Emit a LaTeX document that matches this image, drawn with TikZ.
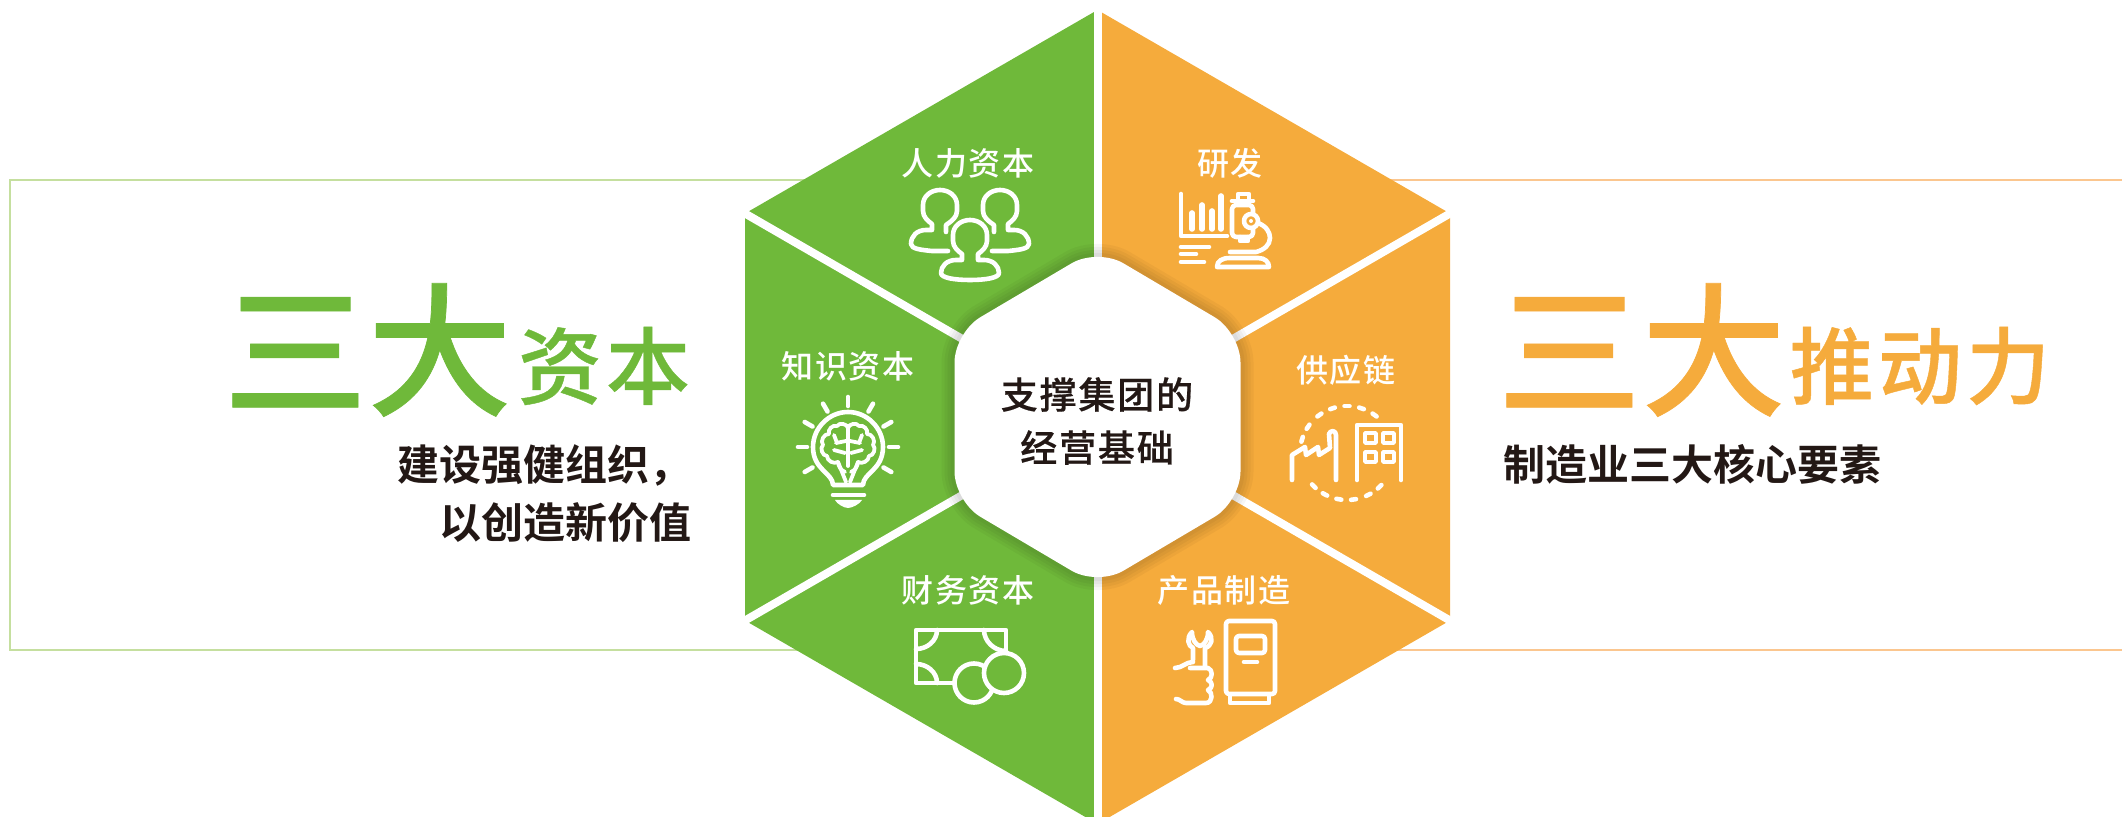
\documentclass[tikz,border=0pt]{standalone}
\usepackage{fontspec}
\usepackage{xcolor}
\usetikzlibrary{calc,positioning}
\newfontfamily\cjkmedium[FakeBold=0.5]{Noto Sans CJK SC Medium}
\newfontfamily\cjkspaced[LetterSpace=5]{Noto Sans CJK SC Medium}
\newfontfamily\cjkheavy[LetterSpace=5,FakeBold=0.5]{Noto Sans CJK SC Medium}
\newfontfamily\cjkbold{Noto Sans CJK SC Bold}
\definecolor{leafgreen}{RGB}{111,185,58}
\definecolor{amber}{RGB}{245,171,60}
\definecolor{leafline}{RGB}{197,223,159}
\definecolor{amberline}{RGB}{251,198,143}
\definecolor{inkdark}{RGB}{35,24,21}
\def\corehex{(1097.5,248) -- (1240.5,332.5) -- (1240.5,501.5) -- (1097.5,586) -- (954.5,501.5) -- (954.5,332.5) -- cycle}
\begin{document}
\begin{tikzpicture}
  [
    x=0.5pt,y=-0.5pt,
    frameline/.style={line width=1.4pt},
    iconline/.style={draw=white,line width=2.3pt,line cap=round,line join=round},
    thinicon/.style={iconline,line width=1.9pt},
    panellabel/.style={text=white,font=\cjkspaced\fontsize{16}{18}\selectfont,inner sep=0pt},
    bigtitle/.style={font=\cjkmedium\fontsize{72}{80}\selectfont,inner sep=0pt},
    smalltitle/.style={font=\cjkheavy\fontsize{42}{46}\selectfont,inner sep=0pt},
    subtitle/.style={text=inkdark,font=\cjkbold\fontsize{21}{29}\selectfont,inner sep=0pt},
    person/.pic={
      \draw[iconline] (-8,34) -- (-8,40) -- (-14,40) .. controls (-23,40) and (-29,46) .. (-29,53) .. controls (-29,58) and (-15,60) .. (0,60) .. controls (15,60) and (29,58) .. (29,53) .. controls (29,46) and (23,40) .. (14,40) -- (8,40) -- (8,34) .. controls (12,31) and (17,27) .. (17,21) -- (17,15) .. controls (17,6) and (9,0) .. (0,0) .. controls (-9,0) and (-17,6) .. (-17,15) -- (-17,21) .. controls (-17,27) and (-12,31) .. (-8,34);
    },
    sideperson/.pic={
      \draw[iconline] (8,61) -- (-8,61) .. controls (-18,60) and (-29,59) .. (-29,54) .. controls (-29,46) and (-23,40) .. (-14,40) -- (-8,40) -- (-8,34) .. controls (-12,31) and (-17,27) .. (-17,21) -- (-17,15) .. controls (-17,6) and (-9,0) .. (0,0) .. controls (9,0) and (17,6) .. (17,15) -- (17,21) .. controls (17,27) and (12,31) .. (6,35) -- (6,42);
    }
  ]
  \clip (0,0) rectangle (2122,817);

  % frames behind the hexagon
  \draw[leafline,frameline] (900,180) -- (10,180) -- (10,650) -- (900,650);
  \draw[amberline,frameline] (1300,180) -- (2130,180);
  \draw[amberline,frameline] (1300,650) -- (2130,650);

  % hexagon
  \fill[leafgreen] (1097.5,10) -- (745,213.5) -- (745,620.5) -- (1097.5,824) -- cycle;
  \fill[amber] (1097.5,10) -- (1450,213.5) -- (1450,620.5) -- (1097.5,824) -- cycle;
  \foreach \ang in {90,30,150,210,330,270}
    \draw[white,line width=4pt] (1097.5,417) -- ++(\ang:440);
  \foreach \wd in {26,20,14,8}
    \draw[black,opacity=0.035,line width=\wd*0.5pt,rounded corners=15pt] \corehex;
  \fill[white,rounded corners=15pt] \corehex;

  % texts
  \node[bigtitle,text=leafgreen] (capitaltitle) at (367.5,350) {三大};
  \node[smalltitle,text=leafgreen] (capitalword) at (604,366) {资本};
  \node[subtitle,align=right,anchor=east] (capitalsub) at (692,494) {建设强健组织，\\以创造新价值};
  \node[bigtitle,text=amber] (drivetitle) at (1641.5,350) {三大};
  \node[smalltitle,text=amber] (driveword) at (1920,366) {推动力};
  \node[subtitle,anchor=west] (drivesub) at (1503,464) {制造业三大核心要素};
  \node[text=inkdark,align=center,inner sep=0pt,font=\cjkheavy\fontsize{18.5}{26.5}\selectfont] (corelabel) at (1097,421) {支撑集团的\\经营基础};

  \node[panellabel] (humanlabel) at (968,163) {人力资本};
  \node[panellabel] (rndlabel) at (1230,163) {研发};
  \node[panellabel] (knowlabel) at (848,366) {知识资本};
  \node[panellabel] (supplylabel) at (1346,370) {供应链};
  \node[panellabel] (financelabel) at (968,590) {财务资本};
  \node[panellabel] (makelabel) at (1224,590) {产品制造};

  % people
  \pic at (940,190) {sideperson};
  \pic[xscale=-1] at (1000,190) {sideperson};
  \pic at (970,220) {person};

  % chart and microscope
  \draw[iconline] (1181,194) -- (1181,236) -- (1227,236);
  \foreach \xb/\yb in {1192/213,1202/205,1212/211,1221/196}
    \draw[iconline,line width=2.8pt] (\xb,\yb) -- (\xb,229);
  \draw[iconline] (1181,247) -- (1209,247);
  \draw[iconline] (1181,254) -- (1196,254);
  \draw[iconline] (1181,262) -- (1204,262);
  \draw[iconline,rounded corners=2pt] (1232,205) rectangle (1253,237);
  \draw[iconline] (1232,201) -- (1253,201);
  \draw[iconline] (1238,201) -- (1238,194) -- (1249,194) -- (1249,201);
  \draw[iconline] (1240,237) -- (1240,241) -- (1248,241) -- (1248,237);
  \draw[iconline,fill=amber] (1251,221) circle (7);
  \fill[white] (1251,221) circle (2);
  \draw[iconline] (1258,223) .. controls (1266,226) and (1270,232) .. (1270,238) .. controls (1270,245) and (1264,250) .. (1256,252) -- (1230,252);
  \draw[iconline] (1217,267) .. controls (1217,261) and (1222,258) .. (1230,258) -- (1258,258) .. controls (1265,258) and (1269,262) .. (1269,267) -- cycle;

  % bulb
  \draw[iconline] (833,485) .. controls (833,473) and (813,470) .. (813,447) .. controls (813,428) and (829,412) .. (848,412) .. controls (867,412) and (883,428) .. (883,447) .. controls (883,470) and (863,473) .. (863,485) -- cycle;
  \draw[iconline] (833,495) -- (864,495);
  \fill[white] (835,500) -- (862,500) .. controls (860,504) and (852,508) .. (848,508) .. controls (844,508) and (837,504) .. (835,500) -- cycle;
  \foreach \ang in {0,30,60,90,120,150,180,210,330}
    \draw[iconline] ($(848,447)+(-\ang:41)$) -- ($(848,447)+(-\ang:50)$);
  \foreach \sgn in {-1,1} {
    \begin{scope}[shift={(848,0)},xscale=\sgn]
      \draw[thinicon] (0,428) to[bend right=70] (-11,426) to[bend right=70] (-19,434) to[bend right=70] (-25,445) to[bend right=70] (-21,456) to[bend right=60] (-10,462) to[bend right=30] (-3,472);
      \draw[thinicon] (-10,462) -- (-2,482);
      \draw[thinicon] (-2,441) -- (-12,443) (-11,443) -- (-14,435) (-3,453) -- (-14,450);
    \end{scope}
  }
  \draw[thinicon] (848,428) -- (848,466);

  % factory and building
  \draw[iconline] (1292,480) -- (1292,455) -- (1305,447) -- (1306,455) -- (1318,447) -- (1319,455) -- (1330,448) -- (1329,434) .. controls (1330,430) and (1336,430) .. (1336,435) -- (1336,480);
  \draw[iconline] (1357,480) -- (1357,425) -- (1401,425) -- (1401,480);
  \foreach \xw/\yw in {1365/433,1383/433,1365/452,1383/452}
    \draw[thinicon] (\xw,\yw) rectangle ++(11,10);
  \foreach \ang in {46,63,82,100,118,135,197,214,234,252,270,288,306}
    \draw[iconline] ($(1347,453)+(\ang-3:47)$) -- ($(1347,453)+(\ang+3:47)$);

  % banknote and coins
  \draw[iconline] (1006,652) -- (1006,630) -- (916,630) -- (916,683) -- (955,683);
  \draw[iconline] (937,630) .. controls (937,641) and (927,649) .. (916,649);
  \draw[iconline] (984,630) .. controls (984,641) and (994,651) .. (1006,651);
  \draw[iconline] (916,664) .. controls (927,664) and (937,672) .. (937,683);
  \draw[iconline,fill=leafgreen] (974,683) circle (19.5);
  \draw[iconline,fill=leafgreen] (1004,673) circle (20);

  % wrench and machine
  \draw[iconline,rounded corners=1.5pt] (1226,621) rectangle (1275,694);
  \draw[iconline] (1230,695) -- (1230,703) -- (1269,703) -- (1269,695);
  \draw[iconline,rounded corners=1.5pt] (1236,636) rectangle (1265,653);
  \draw[iconline] (1244,662) -- (1257,662);
  \draw[iconline] (1193,660) -- (1193,648) .. controls (1188,646) and (1186,638) .. (1192,632) .. controls (1192,640) and (1196,645) .. (1200,646) .. controls (1204,645) and (1208,640) .. (1208,632) .. controls (1214,638) and (1212,646) .. (1205,648) -- (1205,667);
  \draw[iconline] (1175,668) .. controls (1182,668) and (1186,662) .. (1193,662);
  \draw[iconline] (1190,668) -- (1208,668) .. controls (1213,670) and (1213,678) .. (1208,680) .. controls (1213,682) and (1213,688) .. (1208,690) .. controls (1213,692) and (1213,703) .. (1206,703) -- (1186,703) .. controls (1182,703) and (1180,699) .. (1176,699);
\end{tikzpicture}
\end{document}
